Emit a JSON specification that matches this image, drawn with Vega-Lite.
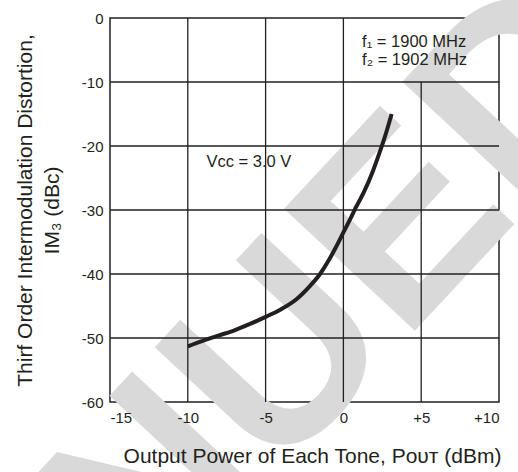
{
  "$schema": "https://vega.github.io/schema/vega-lite/v6.json",
  "autosize": {"type": "none"},
  "width": 389,
  "height": 384,
  "padding": {"left": 110, "top": 18, "right": 19, "bottom": 70},
  "background": "white",
  "config": {
    "view": {"stroke": "#231f20", "strokeWidth": 1.5},
    "font": "Liberation Sans",
    "axis": {
      "domain": false, "ticks": false, "grid": false,
      "labelFont": "Liberation Sans", "labelFontSize": 15, "labelColor": "#231f20",
      "titleFont": "Liberation Sans", "titleFontSize": 21, "titleFontWeight": "normal", "titleColor": "#231f20"
    }
  },
  "datasets": {
    "curve": [
      {"pout": -10, "im3": -51.3},
      {"pout": -9, "im3": -50.4},
      {"pout": -8, "im3": -49.6},
      {"pout": -7, "im3": -48.8},
      {"pout": -6, "im3": -47.8},
      {"pout": -5, "im3": -46.7},
      {"pout": -4, "im3": -45.5},
      {"pout": -3, "im3": -43.9},
      {"pout": -2.2, "im3": -42},
      {"pout": -1.5, "im3": -40},
      {"pout": -1, "im3": -38.1},
      {"pout": -0.5, "im3": -35.9},
      {"pout": 0, "im3": -33.5},
      {"pout": 0.5, "im3": -31.1},
      {"pout": 0.8, "im3": -29.6},
      {"pout": 1.3, "im3": -27.3},
      {"pout": 1.9, "im3": -23.9},
      {"pout": 2.2, "im3": -21.9},
      {"pout": 2.5, "im3": -19.8},
      {"pout": 2.8, "im3": -17.5},
      {"pout": 3.1, "im3": -15}
    ],
    "vgrid": [
      {"x": -10, "y": -60, "y2": 0},
      {"x": -5, "y": -60, "y2": 0},
      {"x": 0, "y": -60, "y2": 0},
      {"x": 5, "y": -60, "y2": -10}
    ],
    "hgrid": [
      {"y": -10, "x": -15, "x2": 10},
      {"y": -20, "x": -15, "x2": 10},
      {"y": -30, "x": -15, "x2": 10},
      {"y": -40, "x": -15, "x2": 10},
      {"y": -50, "x": -15, "x2": 10}
    ],
    "notes": [
      {"x": 1.2, "y": -3.7, "label": "f₁ = 1900 MHz"},
      {"x": 1.2, "y": -6.6, "label": "f₂ = 1902 MHz"},
      {"x": -8.8, "y": -22.5, "label": "Vᴄᴄ = 3.0 V"}
    ],
    "stamp": [
      {"x": -12.63, "y": -93.75, "label": "NUED"}
    ]
  },
  "layer": [
    {
      "data": {"name": "stamp"},
      "mark": {"type": "text", "align": "left", "baseline": "alphabetic", "angle": 313, "font": "Liberation Sans", "fontWeight": "bold", "fontSize": 260, "color": "#d9d9d9"},
      "encoding": {
        "x": {"field": "x", "type": "quantitative", "scale": {"domain": [-15, 10], "nice": false},
          "axis": {"zindex": 2, "values": [-15, -10, -5, 0, 5, 10], "labelExpr": "datum.value > 0 ? '+' + datum.value : '' + datum.value", "labelPadding": 8,
            "title": "Output Power of Each Tone, Pᴏᴜᴛ (dBm)", "titlePadding": 20, "titleX": 202}},
        "y": {"field": "y", "type": "quantitative", "scale": {"domain": [-60, 0], "nice": false},
          "axis": {"zindex": 2, "values": [-60, -50, -40, -30, -20, -10, 0], "labelExpr": "'' + datum.value", "labelPadding": 7, "labelBaseline": "middle",
            "title": ["Thirf Order Intermodulation Distortion,", "IM₃ (dBc)"], "titleLineHeight": 27, "titlePadding": 19}},
        "text": {"field": "label"}
      }
    },
    {
      "data": {"name": "vgrid"},
      "mark": {"type": "rule", "color": "#231f20", "strokeWidth": 1.3},
      "encoding": {
        "x": {"field": "x", "type": "quantitative"},
        "y": {"field": "y", "type": "quantitative"},
        "y2": {"field": "y2"}
      }
    },
    {
      "data": {"name": "hgrid"},
      "mark": {"type": "rule", "color": "#231f20", "strokeWidth": 1.3},
      "encoding": {
        "y": {"field": "y", "type": "quantitative"},
        "x": {"field": "x", "type": "quantitative"},
        "x2": {"field": "x2"}
      }
    },
    {
      "data": {"name": "curve"},
      "mark": {"type": "line", "color": "#231f20", "strokeWidth": 4, "interpolate": "monotone"},
      "encoding": {
        "x": {"field": "pout", "type": "quantitative"},
        "y": {"field": "im3", "type": "quantitative"}
      }
    },
    {
      "data": {"name": "notes"},
      "mark": {"type": "text", "align": "left", "baseline": "middle", "font": "Liberation Sans", "fontSize": 16.5, "color": "#231f20"},
      "encoding": {
        "x": {"field": "x", "type": "quantitative"},
        "y": {"field": "y", "type": "quantitative"},
        "text": {"field": "label"}
      }
    }
  ]
}
